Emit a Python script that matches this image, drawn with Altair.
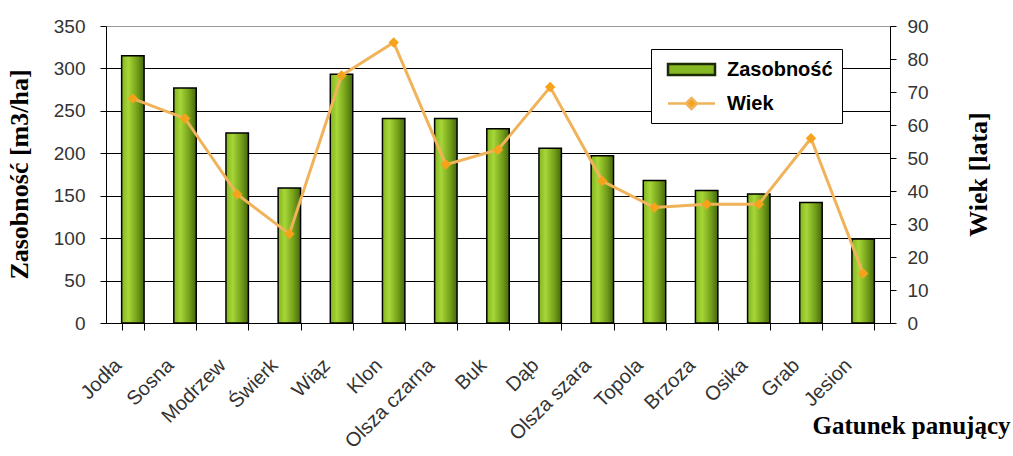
import altair as alt
import pandas as pd

species = ["Jodła", "Sosna", "Modrzew", "Świerk", "Wiąz", "Klon", "Olsza czarna", "Buk",
           "Dąb", "Olsza szara", "Topola", "Brzoza", "Osika", "Grab", "Jesion"]
zasobnosc = [315, 277, 224, 159, 293, 241, 241, 229, 206, 197, 168, 156, 152, 142, 99]
wiek = [68, 62, 39, 27, 75, 85, 48, 52.5, 71.5, 43, 35, 36, 36, 56, 15]
series_names = ["Zasobność", "Wiek"]
left_ticks = [0, 50, 100, 150, 200, 250, 300, 350]
right_ticks = [0, 10, 20, 30, 40, 50, 60, 70, 80, 90]

df = pd.DataFrame({
    "Gatunek": species,
    "Zasobnosc": zasobnosc,
    "Wiek": wiek,
    "series": ["Wiek"] * len(species),
})

GREEN = "#86b823"
ORANGE_LINE = "#f0b35a"
ORANGE_PT = "#f5a31c"

x_enc = alt.X(
    "Gatunek:N",
    sort=species,
    scale=alt.Scale(paddingInner=0.57, paddingOuter=0.30),
    axis=alt.Axis(
        title="Gatunek panujący",
        labelAngle=-45,
        labelAlign="right",
        labelBaseline="middle",
        labelFont="Liberation Sans",
        labelFontSize=20,
        labelColor="#333333",
        labelPadding=32,
        labelOffset=-15,
        tickBand="extent",
        tickSize=7,
        tickColor="black",
        domainColor="black",
        titleFont="Liberation Serif",
        titleFontSize=25,
        titleFontWeight="bold",
        titleColor="black",
        titleX=904,
        titleY=102,
        titleAlign="right",
        titleBaseline="middle",
    ),
)

gradient = alt.Gradient(
    gradient="linear",
    stops=[
        alt.GradientStop(color="#84b521", offset=0),
        alt.GradientStop(color="#a6d637", offset=0.3),
        alt.GradientStop(color="#6f9b18", offset=0.72),
        alt.GradientStop(color="#46660f", offset=1),
    ],
    x1=0, x2=1, y1=0, y2=0,
)

base = alt.Chart(df)

bars = base.mark_bar(fill=gradient, stroke="black", strokeWidth=1.5).encode(
    x=x_enc,
    y=alt.Y(
        "Zasobnosc:Q",
        scale=alt.Scale(domain=[0, 350], nice=False),
        axis=alt.Axis(
            orient="left",
            values=left_ticks,
            title="Zasobność [m3/ha]",
            grid=True,
            gridColor={"condition": {"test": "datum.value === 350", "value": "#9a9a9a"}, "value": "black"},
            gridWidth=1,
            domainColor="black",
            tickColor="black",
            tickSize=6,
            labelFont="Liberation Sans",
            labelFontSize=19,
            labelColor="#333333",
            labelPadding=15,
            titleFont="Liberation Serif",
            titleFontSize=26,
            titleFontWeight="bold",
            titleColor="black",
            titleAngle=270,
            titleX=-87,
            titleY=148,
            titleAlign="center",
            titleBaseline="middle",
        ),
    ),
)

wiek_axis = alt.Axis(
    orient="right",
    values=right_ticks,
    title="Wiek [lata]",
    grid=False,
    domainColor="black",
    tickColor="black",
    tickSize=6,
    labelFont="Liberation Sans",
    labelFontSize=19,
    labelColor="#333333",
    labelPadding=11,
    titleFont="Liberation Serif",
    titleFontSize=26,
    titleFontWeight="bold",
    titleColor="black",
    titleAngle=270,
    titleX=88,
    titleY=148,
    titleAlign="center",
    titleBaseline="middle",
)

y_wiek = alt.Y("Wiek:Q", scale=alt.Scale(domain=[0, 90], nice=False), axis=wiek_axis)

line = base.mark_line(stroke=ORANGE_LINE, strokeWidth=3).encode(x=x_enc, y=y_wiek)

points = base.mark_point(shape="diamond", filled=True, fill=ORANGE_PT, size=110, opacity=1,
                         strokeWidth=0).encode(x=x_enc, y=y_wiek)

legend = alt.Legend(
    title=None,
    orient="none",
    legendX=545,
    legendY=23,
    padding=9,
    strokeColor="black",
    fillColor="white",
    symbolSize=400,
    symbolOffset=20,
    symbolStrokeWidth=2.5,
    labelOffset=24,
    labelFont="Liberation Sans",
    labelFontSize=20,
    labelFontWeight="bold",
    labelColor="black",
    rowPadding=12,
)

legend_layer = base.mark_point(filled=True, opacity=1, strokeWidth=2.5).encode(
    x=x_enc,
    y=y_wiek,
    color=alt.Color("series:N", scale=alt.Scale(domain=series_names, range=[GREEN, ORANGE_PT]), legend=legend),
    shape=alt.Shape("series:N", scale=alt.Scale(
        domain=series_names,
        range=["M-2.35,-0.55H2.35V0.55H-2.35Z",
               "M-2.35,0H-0.55L0,-0.55L0.55,0L0,0.55L-0.55,0ZM0.55,0H2.35"]), legend=legend),
    stroke=alt.Stroke("series:N", scale=alt.Scale(domain=series_names, range=["#1c2a06", ORANGE_LINE]), legend=legend),
).transform_filter("false")

right = alt.layer(line, points, legend_layer)

chart = alt.layer(bars, right).resolve_scale(y="independent").properties(
    width=784,
    height=297,
    padding={"left": 106, "top": 26, "right": 123, "bottom": 133},
    autosize=alt.AutoSizeParams(type="none"),
    background="white",
).configure_view(stroke=None)

chart.save("out.html", embed_options={"renderer": "svg", "actions": False})
